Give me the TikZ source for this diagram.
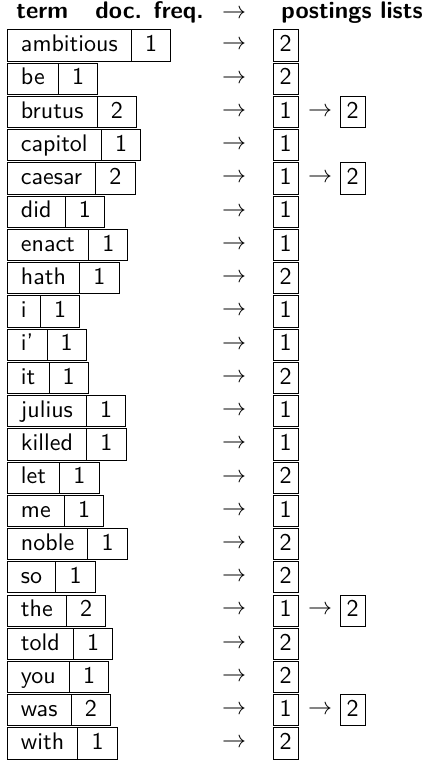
\documentclass[tikz,border=0pt]{standalone}
\usetikzlibrary{positioning}

\begin{document}
\begin{tikzpicture}[x=0.4167pt, y=-0.4167pt, font=\sffamily,
  cell/.style={draw, outer sep=0pt, inner xsep=5.7pt, inner ysep=1.7pt, text height=7.4pt, text depth=2.2pt},
  post/.style={cell, inner xsep=2.8pt},
  head/.style={anchor=base west, font=\sffamily\bfseries}]
\useasboundingbox (0,0) rectangle (421,767);

% Header
\node[head] (hterm) at (8,18.5) {term};
\node[head] (hfreq) at (87,18.5) {doc. freq.};
\node[anchor=base] (harr) at (234,18.5) {$\rightarrow$};
\node[head] (hpost) at (273,18.5) {postings lists};

% Dictionary with first postings
\foreach \t/\f/\p [count=\i from 0] in {ambitious/1/2, be/1/2, brutus/2/1, capitol/1/1,
  caesar/2/1, did/1/1, enact/1/1, hath/1/2, i/1/1, i'/1/1, it/1/2, julius/1/1,
  killed/1/1, let/1/2, me/1/1, noble/1/2, so/1/2, the/2/1, told/1/2, you/1/2,
  was/2/1, with/1/2} {
  \node[cell, anchor=west] (term\i) at (7.3, 45.5+33.24*\i) {\t};
  \node[cell, right=0pt of term\i] (freq\i) {\f};
  \node (arr\i) at (234, 45.5+33.24*\i) {$\rightarrow$};
  \node[post, anchor=west] (post\i) at (273, 45.5+33.24*\i) {\p};
}

% Second postings
\foreach \i in {2,4,17,20} {
  \node (link\i) at (320, 45.5+33.24*\i) {$\rightarrow$};
  \node[post, anchor=west] (next\i) at (340, 45.5+33.24*\i) {2};
}
\end{tikzpicture}
\end{document}
